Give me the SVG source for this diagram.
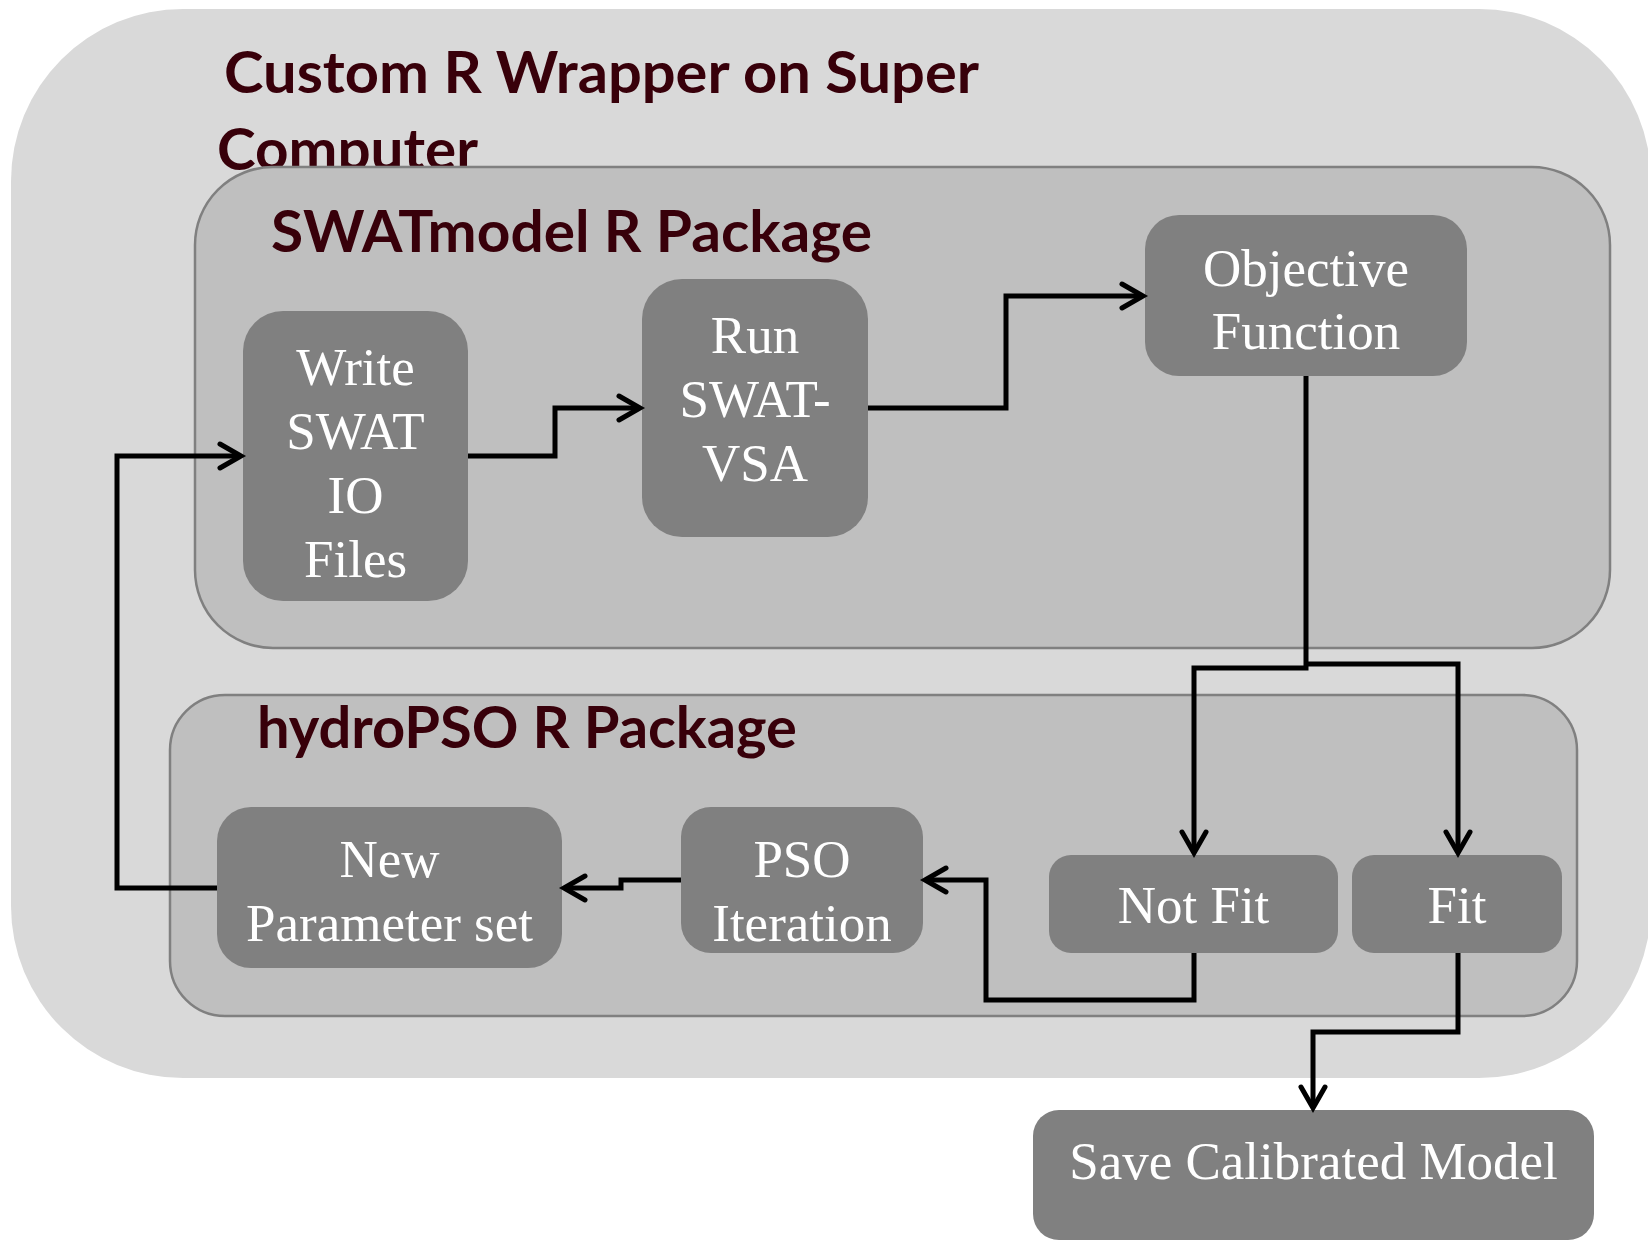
<svg xmlns="http://www.w3.org/2000/svg" width="1648" height="1240" viewBox="0 0 1648 1240">
  <style>
    .outer { fill: #d9d9d9; }
    .pkg { fill: #bfbfbf; stroke: #808080; stroke-width: 2.5; }
    .node { fill: #808080; }
    .title { font-family: Lato, "Open Sans", "Liberation Sans", sans-serif; font-weight: bold; font-size: 57px; fill: #38000a; }
    .label { font-family: "Liberation Serif", "Times New Roman", serif; font-size: 53px; fill: #ffffff; text-anchor: middle; }
    .edge { fill: none; stroke: #000000; stroke-width: 5; stroke-linejoin: miter; marker-end: url(#arrow); }
  </style>
  <defs>
    <marker id="arrow" markerUnits="userSpaceOnUse" markerWidth="32" markerHeight="32" refX="25" refY="14" orient="auto" overflow="visible">
      <path d="M4,2 L25,14 L4,26" fill="none" stroke="#000000" stroke-width="5" stroke-linecap="round" stroke-linejoin="miter"/>
    </marker>
  </defs>

  <rect width="1648" height="1240" fill="#ffffff"/>

  <!-- Supercomputer wrapper -->
  <g id="wrapper">
    <rect class="outer" x="11" y="9" width="1640" height="1069" rx="172" ry="172"/>
    <text class="title" x="224" y="93" textLength="755" lengthAdjust="spacingAndGlyphs">Custom R Wrapper on Super</text>
    <text class="title" x="217" y="170" textLength="261" lengthAdjust="spacingAndGlyphs">Computer</text>
  </g>

  <!-- SWATmodel package -->
  <g id="swatmodel">
    <rect class="pkg" x="195" y="167" width="1415" height="481" rx="78" ry="78"/>
    <text class="title" x="271" y="252" textLength="601" lengthAdjust="spacingAndGlyphs">SWATmodel R Package</text>
  </g>

  <!-- hydroPSO package -->
  <g id="hydropso">
    <rect class="pkg" x="170" y="695" width="1407" height="321" rx="55" ry="55"/>
    <text class="title" x="257" y="748" textLength="540" lengthAdjust="spacingAndGlyphs">hydroPSO R Package</text>
  </g>

  <g id="write-io">
    <rect class="node" x="243" y="311" width="225" height="290" rx="40" ry="40"/>
    <text class="label" x="355.5" y="385">Write</text>
    <text class="label" x="355.5" y="449">SWAT</text>
    <text class="label" x="355.5" y="513">IO</text>
    <text class="label" x="355.5" y="577">Files</text>
  </g>

  <g id="run-swat">
    <rect class="node" x="642" y="279" width="226" height="258" rx="40" ry="40"/>
    <text class="label" x="755" y="353">Run</text>
    <text class="label" x="755" y="417">SWAT-</text>
    <text class="label" x="755" y="481">VSA</text>
  </g>

  <g id="objective">
    <rect class="node" x="1145" y="215" width="322" height="161" rx="34" ry="34"/>
    <text class="label" x="1306" y="286">Objective</text>
    <text class="label" x="1306" y="349">Function</text>
  </g>

  <g id="new-params">
    <rect class="node" x="217" y="807" width="345" height="161" rx="34" ry="34"/>
    <text class="label" x="389.5" y="877">New</text>
    <text class="label" x="389.5" y="941">Parameter set</text>
  </g>

  <g id="pso-iteration">
    <rect class="node" x="681" y="807" width="242" height="146" rx="30" ry="30"/>
    <text class="label" x="802" y="877">PSO</text>
    <text class="label" x="802" y="941">Iteration</text>
  </g>

  <g id="not-fit">
    <rect class="node" x="1049" y="855" width="289" height="98" rx="22" ry="22"/>
    <text class="label" x="1193.5" y="923">Not Fit</text>
  </g>

  <g id="fit">
    <rect class="node" x="1352" y="855" width="210" height="98" rx="22" ry="22"/>
    <text class="label" x="1457" y="923">Fit</text>
  </g>

  <g id="save-model">
    <rect class="node" x="1033" y="1110" width="561" height="130" rx="26" ry="26"/>
    <text class="label" x="1313.5" y="1179">Save Calibrated Model</text>
  </g>

  <!-- Flow connectors -->
  <g id="connectors">
    <path class="edge" d="M468 456 H555 V408 H640"/>
    <path class="edge" d="M868 408 H1006 V296 H1143"/>
    <path class="edge" d="M1306 376 V668 H1194 V853"/>
    <path class="edge" d="M1306 664 H1458 V853"/>
    <path class="edge" d="M1194 953 V1000 H986 V880 H925"/>
    <path class="edge" d="M681 880 H621 V888 H564"/>
    <path class="edge" d="M217 888 H117 V456 H241"/>
    <path class="edge" d="M1458 953 V1032 H1313 V1108"/>
  </g>
</svg>
